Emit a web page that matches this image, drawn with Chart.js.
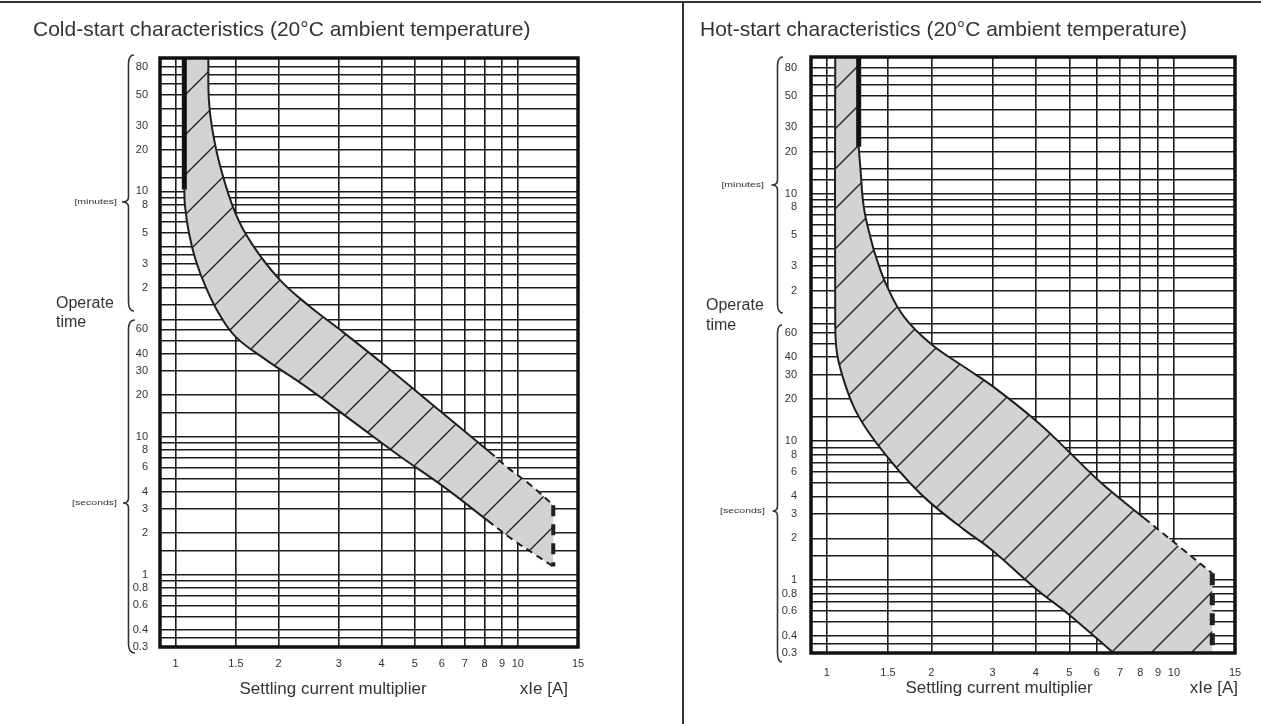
<!DOCTYPE html>
<html>
<head>
<meta charset="utf-8">
<script src="https://cdn.jsdelivr.net/npm/chart.js@4.4.1/dist/chart.umd.min.js"></script>
<style>
html, body { margin: 0; padding: 0; background: #ffffff; }
#wrap { position: relative; width: 1261px; height: 724px; overflow: hidden; background: #fff; }
#topline { position: absolute; left: 0; top: 1px; width: 1261px; height: 2px; background: #333; }
#divider { position: absolute; left: 682px; top: 2px; width: 2px; height: 722px; background: #333; }
#c1 { position: absolute; left: 0; top: 0; }
#c2 { position: absolute; left: 684px; top: 0; }
</style>
</head>
<body>
<div id="wrap">
  <canvas id="c1" width="682" height="724"></canvas>
  <canvas id="c2" width="577" height="724"></canvas>
  <div id="topline"></div>
  <div id="divider"></div>
</div>
<script>
// ---------------- data ----------------
const xTickValues = [1, 1.5, 2, 3, 4, 5, 6, 7, 8, 9, 10, 15];
const xTickLabels = ['1', '1.5', '2', '3', '4', '5', '6', '7', '8', '9', '10', '15'];

// horizontal grid lines (seconds)
const yGridSeconds = [0.3, 0.35, 0.4, 0.5, 0.6, 0.7, 0.8, 0.9, 1, 1.5, 2, 3, 4, 5, 6, 7, 8, 9, 10, 15, 20, 30, 40, 50, 60, 70, 90,
  120, 150, 180, 210, 240, 300, 360, 420, 480, 540, 600, 750, 900, 1200, 1500, 1800, 2400, 3000, 3600, 4200, 4800];
// labelled ticks (seconds) and their printed labels (seconds below 1 min, minutes above)
const yTickSeconds = [0.3, 0.4, 0.6, 0.8, 1, 2, 3, 4, 6, 8, 10, 20, 30, 40, 60, 120, 180, 300, 480, 600, 1200, 1800, 3000, 4800];
const yTickLabels  = ['0.3', '0.4', '0.6', '0.8', '1', '2', '3', '4', '6', '8', '10', '20', '30', '40', '60', '2', '3', '5', '8', '10', '20', '30', '50', '80'];

// Cold-start band
const coldYMax = 5560;
const coldTopX = [1.06, 1.246];
const coldTopY = [5560, 5560];
const coldEdgeX = [1.06, 1.06];
const coldEdgeY = [5560, 620];
const coldUpperX = [1.246, 1.25, 1.28, 1.354, 1.498, 1.676, 2.007, 2.456, 3.006, 4.025, 6.04, 8.26];
const coldUpperY = [5560, 2806, 1684, 887, 412, 247, 139, 88.7, 60.4, 34, 14.8, 7.8];
const coldUpperDashX = [8.26, 9.45, 10.83, 12.7];
const coldUpperDashY = [7.8, 5.86, 4.53, 3.2];
const coldLowerX = [1.06, 1.065, 1.094, 1.144, 1.224, 1.339, 1.498, 1.833, 2.402, 3.288, 4.503, 6.04, 8.17];
const coldLowerY = [620, 468, 299, 191, 122, 78, 53, 36.3, 23.1, 13.0, 7.3, 4.39, 2.47];
const coldLowerDashX = [8.17, 9.67, 11.3, 12.7];
const coldLowerDashY = [2.47, 1.8, 1.39, 1.15];
const coldEndX = [12.7, 12.7];
const coldEndY = [3.2, 1.15];

// Hot-start band
const hotYMax = 5740;
const hotTopX = [1.057, 1.235];
const hotTopY = [5740, 5740];
const hotThickX = [1.235, 1.235];
const hotThickY = [5740, 1300];
const hotUpperX = [1.235, 1.249, 1.277, 1.335, 1.396, 1.493, 1.669, 1.992, 2.49, 3.04, 4.06, 5.0, 6.02, 7.0, 8.2];
const hotUpperY = [1300, 912, 483, 290, 198, 128, 78, 50, 34, 24.2, 13.6, 8.3, 5.3, 3.85, 2.8];
const hotUpperDashX = [8.2, 10.5, 12.9];
const hotUpperDashY = [2.8, 1.7, 1.12];
const hotEndX = [12.9, 12.9];
const hotEndY = [1.12, 0.3];
const hotBottomX = [12.9, 6.7];
const hotBottomY = [0.3, 0.3];
const hotLowerX = [1.057, 1.057, 1.069, 1.118, 1.195, 1.306, 1.493, 1.744, 1.992, 2.49, 2.97, 4.04, 4.93, 6.7];
const hotLowerY = [5740, 71.5, 43, 27.5, 17.6, 12.0, 7.7, 4.93, 3.58, 2.3, 1.67, 0.85, 0.58, 0.3];

// ---------------- helpers ----------------
const FONT = "'Liberation Sans', Arial, Helvetica, sans-serif";
const yLabelOf = {};
yTickSeconds.forEach((v, i) => { yLabelOf[v] = yTickLabels[i]; });
const xLabelOf = {};
xTickValues.forEach((v, i) => { xLabelOf[v] = xTickLabels[i]; });

const pts = (xs, ys) => xs.map((x, i) => ({ x: x, y: ys[i] }));
// outline of the band: chained segments (shared end points kept so corners stay sharp)
const chain = segs => [].concat.apply([], segs);

function hatchPattern(size) {
  const c = document.createElement('canvas');
  c.width = size; c.height = size;
  const g = c.getContext('2d');
  g.fillStyle = '#d3d3d3';
  g.fillRect(0, 0, size, size);
  g.strokeStyle = '#262626';
  g.lineWidth = 1.4;
  [0, size, 2 * size].forEach(k => {
    g.beginPath();
    g.moveTo(k + 2, -2);
    g.lineTo(k - size - 2, size + 2);
    g.stroke();
  });
  return g.createPattern(c, 'repeat');
}

function drawBrace(ctx, b) {
  const r = 9;
  ctx.beginPath();
  ctx.moveTo(b.endX, b.top);
  ctx.quadraticCurveTo(b.x, b.top, b.x, b.top + r);
  ctx.lineTo(b.x, b.tip - 5);
  ctx.quadraticCurveTo(b.x, b.tip, b.tipX, b.tip);
  ctx.quadraticCurveTo(b.x, b.tip, b.x, b.tip + 5);
  ctx.lineTo(b.x, b.bottom - r);
  ctx.quadraticCurveTo(b.x, b.bottom, b.endX, b.bottom);
  ctx.stroke();
}

function drawText(ctx, t) {
  ctx.save();
  ctx.font = t.font;
  ctx.fillStyle = t.color || '#333';
  ctx.textBaseline = 'middle';
  ctx.textAlign = t.align || 'left';
  ctx.translate(t.x, t.y);
  ctx.scale(t.sx || 1, 1);
  ctx.fillText(t.text, 0, 0);
  ctx.restore();
}

const decorPlugin = {
  id: 'decor',
  afterDraw(chart, args, o) {
    const ctx = chart.ctx, a = chart.chartArea;
    ctx.save();
    ctx.strokeStyle = '#111';
    ctx.lineWidth = 3.5;
    ctx.strokeRect(a.left, a.top, a.right - a.left, a.bottom - a.top);
    ctx.strokeStyle = '#333';
    ctx.lineWidth = 1.6;
    o.braces.forEach(b => drawBrace(ctx, b));
    o.texts.forEach(t => drawText(ctx, t));
    ctx.restore();
  }
};

function lineDs(data, opts) {
  return Object.assign({
    data: data, showLine: true, fill: false, pointRadius: 0, pointHoverRadius: 0,
    borderColor: '#1f1f1f', borderWidth: 2, tension: 0.4, order: 1
  }, opts || {});
}

function makeChart(id, c) {
  const datasets = [
    lineDs(c.poly, { borderWidth: 0, borderColor: 'rgba(0,0,0,0)', backgroundColor: hatchPattern(c.hatch), fill: 'shape', order: 5 })
  ].concat(c.lines);

  return new Chart(document.getElementById(id), {
    type: 'scatter',
    data: { datasets: datasets },
    plugins: [decorPlugin],
    options: {
      responsive: false,
      animation: false,
      events: [],
      layout: { padding: { left: c.padLeft, right: c.padRight, top: 0, bottom: 0 } },
      plugins: {
        legend: { display: false },
        tooltip: { enabled: false },
        title: {
          display: true, text: c.title, align: 'start', color: '#333',
          font: { family: FONT, size: 21, weight: 'normal' },
          padding: { top: 18, bottom: c.titleBottom }
        },
        decor: { braces: c.braces, texts: c.texts }
      },
      scales: {
        x: {
          type: 'logarithmic', min: 0.9, max: 15, z: 1,
          afterBuildTicks: s => { s.ticks = xTickValues.map(v => ({ value: v })); },
          afterFit: s => { s.height = c.xAxisHeight; },
          ticks: {
            autoSkip: false, maxRotation: 0, padding: c.xTickPad, color: '#333',
            font: { family: FONT, size: 11 },
            callback: v => (xLabelOf[v] !== undefined ? xLabelOf[v] : '')
          },
          grid: { color: '#1c1c1c', lineWidth: 1.6, drawTicks: false },
          border: { display: false }
        },
        y: {
          type: 'logarithmic', min: 0.3, max: c.yMax, z: 1,
          afterBuildTicks: s => { s.ticks = yGridSeconds.map(v => ({ value: v })); },
          afterFit: s => { s.width = c.yAxisWidth; },
          ticks: {
            autoSkip: false, padding: c.yTickPad, color: '#333',
            font: { family: FONT, size: 11 },
            callback: v => (yLabelOf[v] !== undefined ? yLabelOf[v] : '')
          },
          grid: { color: '#1c1c1c', lineWidth: 1.6, drawTicks: false },
          border: { display: false }
        }
      }
    }
  });
}

// ---------------- cold-start chart ----------------
const coldPoly = chain([
  pts(coldTopX, coldTopY),
  pts(coldUpperX, coldUpperY),
  pts(coldUpperDashX, coldUpperDashY),
  pts(coldEndX, coldEndY),
  pts(coldLowerDashX, coldLowerDashY).reverse(),
  pts(coldLowerX, coldLowerY).reverse(),
  pts(coldEdgeX, coldEdgeY).reverse()
]);

makeChart('c1', {
  title: 'Cold-start characteristics (20°C ambient temperature)',
  titleBottom: 14.8,
  padLeft: 33, padRight: 104, yAxisWidth: 127, xAxisHeight: 77,
  xTickPad: 10, yTickPad: 12, yMax: coldYMax, hatch: 40,
  poly: coldPoly,
  lines: [
    lineDs(pts(coldUpperX, coldUpperY)),
    lineDs(pts(coldUpperDashX, coldUpperDashY), { borderDash: [7, 5] }),
    lineDs(pts(coldLowerX, coldLowerY)),
    lineDs(pts(coldLowerDashX, coldLowerDashY), { borderDash: [7, 5] }),
    lineDs(pts(coldEndX, coldEndY), { borderWidth: 4, borderDash: [11, 8], tension: 0 }),
    lineDs(pts(coldEdgeX, coldEdgeY), { borderWidth: 5, tension: 0, borderColor: '#111' })
  ],
  braces: [
    { x: 128.5, top: 55, bottom: 311, tip: 202, tipX: 122, endX: 134 },
    { x: 128.5, top: 320, bottom: 653, tip: 503, tipX: 123, endX: 135 }
  ],
  texts: [
    { text: 'Operate', x: 56, y: 304, font: '16px ' + FONT },
    { text: 'time', x: 56, y: 323, font: '16px ' + FONT },
    { text: '[minutes]', x: 117, y: 202, font: '7px ' + FONT, align: 'right', sx: 1.5 },
    { text: '[seconds]', x: 117, y: 503, font: '7px ' + FONT, align: 'right', sx: 1.5 },
    { text: 'Settling current multiplier', x: 333, y: 689, font: '17px ' + FONT, align: 'center' },
    { text: 'xIe [A]', x: 568, y: 689, font: '17px ' + FONT, align: 'right' }
  ]
});

// ---------------- hot-start chart ----------------
const hotPoly = chain([
  pts(hotTopX, hotTopY),
  pts(hotThickX, hotThickY),
  pts(hotUpperX, hotUpperY),
  pts(hotUpperDashX, hotUpperDashY),
  pts(hotEndX, hotEndY),
  pts(hotBottomX, hotBottomY),
  pts(hotLowerX, hotLowerY).reverse()
]);

makeChart('c2', {
  title: 'Hot-start characteristics (20°C ambient temperature)',
  titleBottom: 13.8,
  padLeft: 16, padRight: 26, yAxisWidth: 111, xAxisHeight: 71,
  xTickPad: 13, yTickPad: 14, yMax: hotYMax, hatch: 40,
  poly: hotPoly,
  lines: [
    lineDs(pts(hotUpperX, hotUpperY)),
    lineDs(pts(hotUpperDashX, hotUpperDashY), { borderDash: [7, 5] }),
    lineDs(pts(hotLowerX, hotLowerY)),
    lineDs(pts(hotEndX, hotEndY), { borderWidth: 5, borderDash: [12, 8], tension: 0 }),
    lineDs(pts(hotThickX, hotThickY), { borderWidth: 5, tension: 0, borderColor: '#111' })
  ],
  braces: [
    { x: 93.5, top: 57, bottom: 313, tip: 185, tipX: 87.5, endX: 99 },
    { x: 93.5, top: 325, bottom: 662, tip: 511, tipX: 88.5, endX: 98 }
  ],
  texts: [
    { text: 'Operate', x: 22, y: 306, font: '16px ' + FONT },
    { text: 'time', x: 22, y: 326, font: '16px ' + FONT },
    { text: '[minutes]', x: 80, y: 185, font: '7px ' + FONT, align: 'right', sx: 1.5 },
    { text: '[seconds]', x: 81, y: 511, font: '7px ' + FONT, align: 'right', sx: 1.5 },
    { text: 'Settling current multiplier', x: 315, y: 688, font: '17px ' + FONT, align: 'center' },
    { text: 'xIe [A]', x: 554, y: 688, font: '17px ' + FONT, align: 'right' }
  ]
});
</script>
</body>
</html>
